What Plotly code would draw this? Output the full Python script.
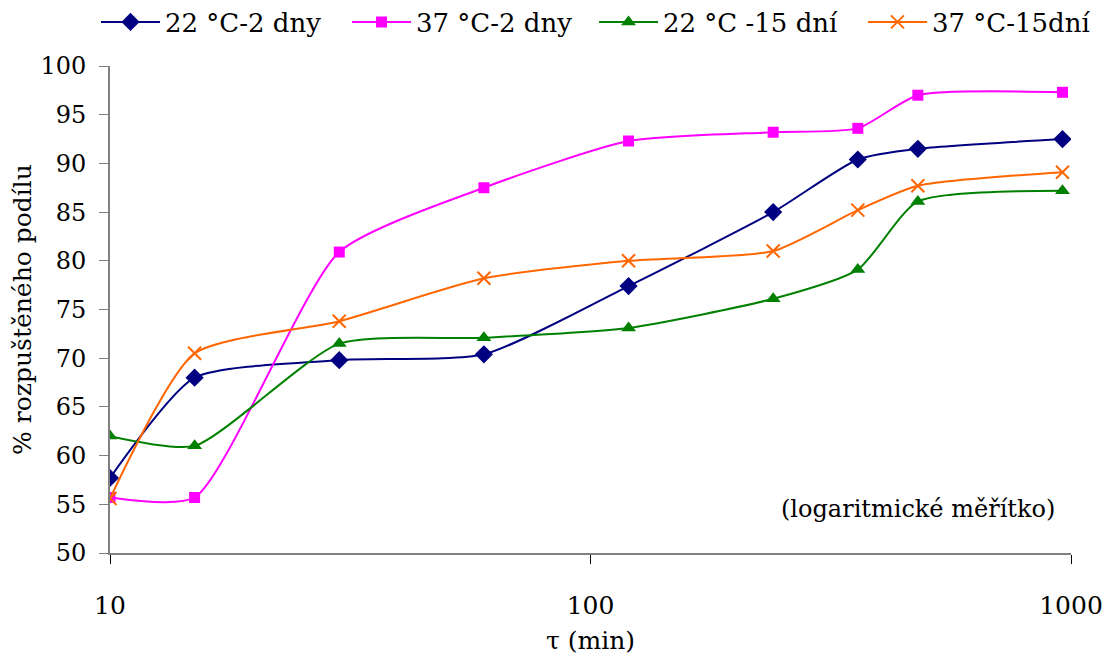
import plotly.graph_objects as go

time_min = [10, 15, 30, 60, 120, 240, 360, 480, 960]
s22_2 = [57.7, 68.0, 69.8, 70.4, 77.4, 85.0, 90.4, 91.5, 92.5]
s37_2 = [55.7, 55.7, 80.9, 87.5, 92.3, 93.2, 93.6, 97.0, 97.3]
s22_15 = [62.0, 61.0, 71.5, 72.1, 73.1, 76.1, 79.1, 86.1, 87.2]
s37_15 = [55.6, 70.5, 73.8, 78.2, 80.0, 81.0, 85.2, 87.7, 89.1]

names = ["22 °C-2 dny", "37 °C-2 dny", "22 °C -15 dní", "37 °C-15dní"]
colors = ["#000080", "#FF00FF", "#008000", "#FF6600"]
symbols = ["diamond", "square", "triangle-up", "x-thin"]
sizes = [14, 11, 13, 13]
series = [s22_2, s37_2, s22_15, s37_15]
legend_ids = ["legend", "legend2", "legend3", "legend4"]
legend_left_px = [88, 339, 586, 855]

fig = go.Figure()
for n, c, s, sz, y, lg in zip(names, colors, symbols, sizes, series, legend_ids):
    marker = dict(symbol=s, size=sz, color=c)
    if s == "x-thin":
        marker["line"] = dict(color=c, width=2)
    fig.add_trace(go.Scatter(
        x=time_min, y=y, name=n, mode="lines+markers", legend=lg,
        line=dict(color=c, width=2, shape="spline", smoothing=0.6),
        marker=marker,
    ))

font = "DejaVu Serif"
W, H = 1111, 663
legend_style = dict(orientation="h", xref="container", yref="container",
                    xanchor="left", yanchor="middle", y=1 - 14 / H,
                    font=dict(family=font, size=26), itemwidth=59,
                    bgcolor="rgba(0,0,0,0)")
layout_legends = {}
for lg, lx in zip(legend_ids, legend_left_px):
    layout_legends[lg] = dict(legend_style, x=lx / W)

fig.update_layout(
    width=W, height=H,
    paper_bgcolor="white", plot_bgcolor="white",
    margin=dict(l=102, r=48, t=58, b=118, autoexpand=False),
    font=dict(family=font, size=24, color="black"),
    showlegend=True,
    xaxis=dict(type="log", range=[1, 3], tickvals=[10, 100, 1000],
               ticktext=["10", "100", "1000"],
               showline=True, linecolor="#808080", linewidth=2,
               ticks="outside", ticklen=9, tickcolor="#000000", tickwidth=1,
               showgrid=False, zeroline=False,
               ticklabelstandoff=20,
               tickfont=dict(family=font, size=25),
               title=dict(text="τ (min)", standoff=12, font=dict(family=font, size=25))),
    yaxis=dict(range=[50, 100], dtick=5, tick0=50,
               showline=True, linecolor="#808080", linewidth=2,
               ticks="outside", ticklen=9, tickcolor="#808080", tickwidth=1,
               showgrid=False, zeroline=False,
               ticklabelstandoff=8,
               tickfont=dict(family=font, size=24),
               title=dict(text="% rozpuštěného podílu", standoff=8, font=dict(family=font, size=25))),
    annotations=[dict(text="(logaritmické měřítko)", xref="paper", yref="paper",
                      x=0.985, y=0.09, xanchor="right", yanchor="middle",
                      showarrow=False, font=dict(family=font, size=24))],
    **layout_legends,
)

fig.write_html("out.html")
